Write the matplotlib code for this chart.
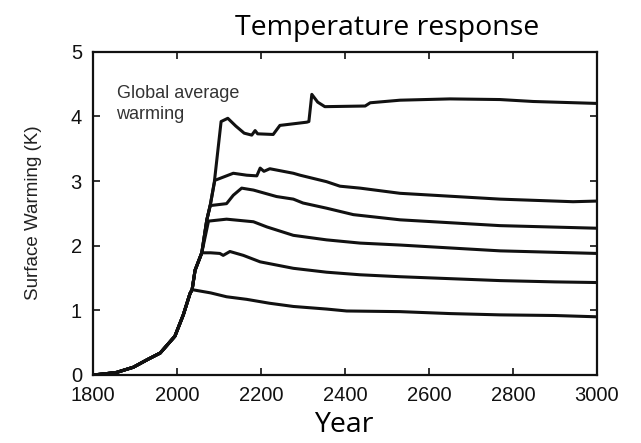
import matplotlib
matplotlib.use("Agg")
import matplotlib.pyplot as plt
import numpy as np

# shared historical warming (all scenarios follow this)
hist_years = [1800, 1830, 1856, 1896, 1930, 1960, 1995, 2015, 2031]
hist_vals = [0.0, 0.02, 0.04, 0.12, 0.24, 0.34, 0.60, 0.93, 1.26]

# each scenario: years and warming after it leaves the common rise
s1_years = [2036, 2080, 2118, 2166, 2220, 2277, 2356, 2404, 2531, 2650, 2769, 2900, 3000]
s1_vals = [1.32, 1.27, 1.21, 1.17, 1.11, 1.06, 1.02, 0.99, 0.98, 0.95, 0.93, 0.92, 0.90]

s2_years = [2036, 2043, 2059, 2080, 2102, 2110, 2126, 2158, 2198, 2277, 2356, 2436, 2531, 2769, 2900, 3000]
s2_vals = [1.32, 1.62, 1.89, 1.89, 1.88, 1.85, 1.91, 1.85, 1.75, 1.65, 1.59, 1.55, 1.52, 1.46, 1.44, 1.43]

s3_years = [2036, 2043, 2059, 2075, 2118, 2182, 2214, 2277, 2356, 2436, 2531, 2769, 3000]
s3_vals = [1.32, 1.62, 1.89, 2.38, 2.41, 2.37, 2.29, 2.16, 2.09, 2.04, 2.01, 1.92, 1.88]

s4_years = [2036, 2043, 2059, 2071, 2079, 2118, 2134, 2154, 2182, 2237, 2277, 2300, 2356, 2420, 2531, 2769, 3000]
s4_vals = [1.32, 1.62, 1.89, 2.40, 2.62, 2.65, 2.78, 2.89, 2.86, 2.76, 2.72, 2.66, 2.58, 2.48, 2.40, 2.31, 2.27]

s5_years = [2036, 2043, 2059, 2071, 2079, 2090, 2134, 2166, 2190, 2198, 2207, 2221, 2277, 2293,
            2356, 2388, 2436, 2531, 2769, 2943, 3000]
s5_vals = [1.32, 1.62, 1.89, 2.40, 2.62, 3.01, 3.12, 3.09, 3.08, 3.20, 3.15, 3.19, 3.12, 3.09,
           2.99, 2.92, 2.89, 2.81, 2.72, 2.68, 2.69]

s6_years = [2036, 2043, 2059, 2071, 2079, 2089, 2105, 2121, 2140, 2160, 2178, 2186, 2192, 2229, 2245,
            2309, 2314, 2321, 2335, 2352, 2448, 2460, 2531, 2650, 2769, 2848, 3000]
s6_vals = [1.32, 1.62, 1.89, 2.40, 2.62, 2.99, 3.92, 3.97, 3.85, 3.74, 3.71, 3.78, 3.73, 3.72, 3.86,
           3.91, 3.92, 4.34, 4.22, 4.15, 4.16, 4.21, 4.25, 4.27, 4.26, 4.23, 4.20]

scenarios = [(s1_years, s1_vals), (s2_years, s2_vals), (s3_years, s3_vals),
             (s4_years, s4_vals), (s5_years, s5_vals), (s6_years, s6_vals)]

xticks = [1800, 2000, 2200, 2400, 2600, 2800, 3000]
yticks = [0, 1, 2, 3, 4, 5]

plt.rcParams['font.family'] = ['Liberation Sans', 'DejaVu Sans']

fig = plt.figure(figsize=(6.41, 4.43), dpi=100)
ax = fig.add_axes([93 / 641, 1 - 375 / 443, 504 / 641, (375 - 51.7) / 443])

for yrs, vals in scenarios:
    ax.plot(hist_years + yrs, hist_vals + vals, color='#111111', lw=2.2, solid_joinstyle='round')

ax.set_xlim(1800, 3000)
ax.set_ylim(0, 5)
ax.set_xticks(xticks)
ax.set_yticks(yticks)
ax.tick_params(direction='in', length=5, width=1.2, labelsize=14.5, colors='#111111',
               top=True, right=True)
ax.tick_params(axis='y', pad=8)
ax.tick_params(axis='x', pad=8)
for sp in ax.spines.values():
    sp.set_linewidth(1.6)
    sp.set_color('#111111')

ax.text(1856, 4.49, "Global average\nwarming", fontsize=13, color='#333333',
        va='top', ha='left', linespacing=1.35)

fig.text(34 / 641, 1 - 213 / 443, "Surface Warming (K)", rotation=90, fontsize=13.5,
         ha='center', va='center', color='#222222')
fig.text(387 / 641, 1 - 28 / 443, "Temperature response", fontsize=20.5, family='Open Sans',
         ha='center', va='center')
fig.text(344 / 641, 1 - 425 / 443, "Year", fontsize=20.5, family='Open Sans',
         ha='center', va='center')

fig.savefig("out.png", dpi=100)
